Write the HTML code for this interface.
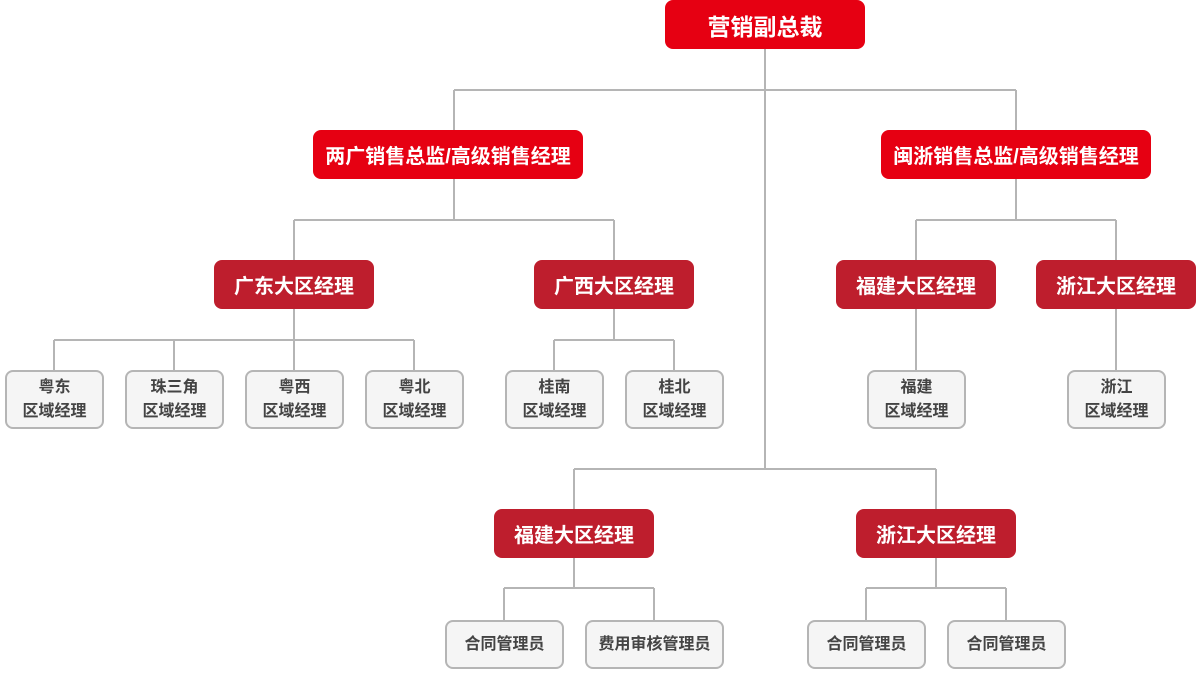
<!DOCTYPE html>
<html><head><meta charset="utf-8"><style>
body{margin:0;width:1196px;height:673px;background:#fff;position:relative;overflow:hidden;font-family:"Liberation Sans","Noto Sans CJK SC",sans-serif;font-weight:bold}
.n{position:absolute;box-sizing:border-box;display:flex;align-items:center;justify-content:center;text-align:center;border-radius:8px;white-space:nowrap}
.a{background:#e60012;color:#fff;font-size:23px}
.b{background:#e60012;color:#fff;font-size:20px}
.c{background:#be1e2d;color:#fff;font-size:20px}
.d{background:#f5f5f5;border:2px solid #b5b5b5;color:#444;font-size:16px;line-height:24px}
svg{position:absolute;left:0;top:0}
</style></head><body>
<svg width="1196" height="673" fill="none" stroke="#b5b5b5" stroke-width="2">
<path d="M765 49V469M454 90H1016M454 90V130M1016 90V130"/>
<path d="M454 179V220M294 220H614M294 220V260M614 220V260"/>
<path d="M1016 179V220M916 220H1116M916 220V260M1116 220V260"/>
<path d="M294 309V340M54 340H414M54 340V370M174 340V370M294 340V370M414 340V370"/>
<path d="M614 309V340M554 340H674M554 340V370M674 340V370"/>
<path d="M916 309V370M1116 309V370"/>
<path d="M574 469H936M574 469V509M936 469V509"/>
<path d="M574 558V588M504 588H654M504 588V620M654 588V620"/>
<path d="M936 558V588M866 588H1006M866 588V620M1006 588V620"/>
</svg>
<div class="n a" style="left:665px;top:0;width:200px;height:49px">营销副总裁</div>
<div class="n b" style="left:313px;top:130px;width:270px;height:49px">两广销售总监/高级销售经理</div>
<div class="n b" style="left:881px;top:130px;width:270px;height:49px">闽浙销售总监/高级销售经理</div>
<div class="n c" style="left:214px;top:260px;width:160px;height:49px">广东大区经理</div>
<div class="n c" style="left:534px;top:260px;width:160px;height:49px">广西大区经理</div>
<div class="n c" style="left:836px;top:260px;width:160px;height:49px">福建大区经理</div>
<div class="n c" style="left:1036px;top:260px;width:160px;height:49px">浙江大区经理</div>
<div class="n d" style="left:5px;top:370px;width:99px;height:59px">粤东<br>区域经理</div>
<div class="n d" style="left:125px;top:370px;width:99px;height:59px">珠三角<br>区域经理</div>
<div class="n d" style="left:245px;top:370px;width:99px;height:59px">粤西<br>区域经理</div>
<div class="n d" style="left:365px;top:370px;width:99px;height:59px">粤北<br>区域经理</div>
<div class="n d" style="left:505px;top:370px;width:99px;height:59px">桂南<br>区域经理</div>
<div class="n d" style="left:625px;top:370px;width:99px;height:59px">桂北<br>区域经理</div>
<div class="n d" style="left:867px;top:370px;width:99px;height:59px">福建<br>区域经理</div>
<div class="n d" style="left:1067px;top:370px;width:99px;height:59px">浙江<br>区域经理</div>
<div class="n c" style="left:494px;top:509px;width:160px;height:49px">福建大区经理</div>
<div class="n c" style="left:856px;top:509px;width:160px;height:49px">浙江大区经理</div>
<div class="n d" style="left:445px;top:620px;width:119px;height:49px">合同管理员</div>
<div class="n d" style="left:585px;top:620px;width:139px;height:49px">费用审核管理员</div>
<div class="n d" style="left:807px;top:620px;width:119px;height:49px">合同管理员</div>
<div class="n d" style="left:947px;top:620px;width:119px;height:49px">合同管理员</div>
</body></html>
